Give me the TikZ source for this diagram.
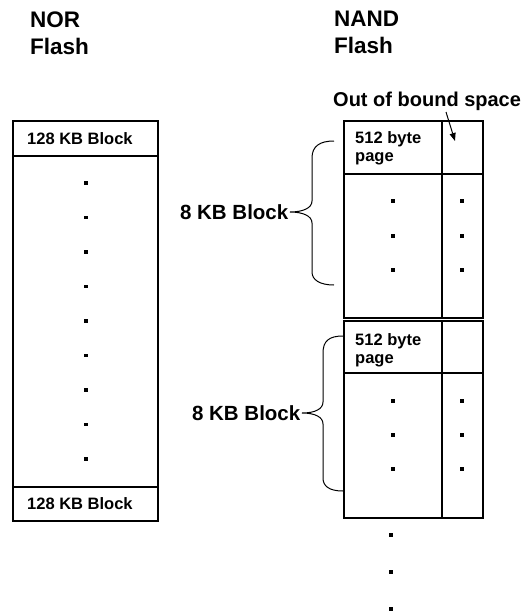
\documentclass[tikz,border=0pt]{standalone}
\usepackage{fontspec}
\setmainfont{Liberation Sans}
\usetikzlibrary{arrows.meta}
\begin{document}
\begin{tikzpicture}[x=1pt,y=-1pt,
  boxline/.style={line width=1.3pt},
  title/.style={font=\fontsize{22.5}{27}\selectfont\bfseries, align=left, inner sep=0pt, anchor=north west},
  cell/.style={font=\fontsize{16.5}{18}\selectfont\bfseries, align=left, inner sep=0pt},
  lbl/.style={font=\fontsize{20.5}{24}\selectfont\bfseries, inner sep=1.5pt, anchor=east},
  bracestyle/.style={line width=1pt},
  vdot/.style={fill=black, minimum size=3.3pt, inner sep=0pt, draw=none, rectangle},
  bigdot/.style={fill=black, minimum size=4.3pt, inner sep=0pt, draw=none, rectangle}]
\useasboundingbox (0,0) rectangle (527,614);
\fill[white] (0,0) rectangle (527,614);

% titles
\node[title] (nor) at (30,12) {NOR\\Flash};
\node[title] (nand) at (334,11) {NAND\\Flash};

% NOR flash
\draw[boxline] (13,121) rectangle (158,521);
\draw[boxline] (13,156) -- (158,156);
\draw[boxline] (13,487) -- (158,487);
\node[cell, anchor=west] (nortop) at (27,139) {128 KB Block};
\node[cell, anchor=west] (norbot) at (27,504) {128 KB Block};
\foreach \i in {0,...,8} {
  \node[vdot] (nd\i) at (86,183+34.5*\i) {};
}

% NAND flash block 1
\draw[boxline] (344,121) rectangle (483,318);
\draw[boxline] (442,121) -- (442,318);
\draw[boxline] (344,174) -- (483,174);
\node[cell, anchor=north west] (pg1) at (355,131.5) {512 byte\\page};
% NAND flash block 2
\draw[boxline] (344,321) rectangle (483,518);
\draw[boxline] (442,321) -- (442,518);
\draw[boxline] (344,373) -- (483,373);
\node[cell, anchor=north west] (pg2) at (355,333) {512 byte\\page};

\foreach \y [count=\k] in {201,236,270,401,435,469} {
  \node[vdot] (da\k) at (393,\y) {};
  \node[vdot] (db\k) at (462,\y) {};
}
\foreach \y [count=\k] in {535,572,609} {
  \node[bigdot] (dc\k) at (391,\y) {};
}

% out of bound space
\node[font=\fontsize{20}{24}\selectfont\bfseries, inner sep=0pt, anchor=base west] (oob) at (333,106) {Out of bound space};
\coordinate (oobfoot) at (446,112);
\coordinate (oobtip) at (455,141);
\draw[line width=1pt, -{Triangle[length=8pt,width=6pt]}] (oobfoot) -- (oobtip);

% braces
\node[lbl] (kb1) at (290,212) {8 KB Block};
\coordinate (b1t) at (334,141);
\coordinate (b1b) at (334,285);
\draw[bracestyle] (b1t) .. controls (320,141) and (312,146) .. (312,158) -- (312,201)
  .. controls (312,208) and (303,212) .. (kb1.east)
  .. controls (303,212) and (312,216) .. (312,223) -- (312,272)
  .. controls (312,280) and (320,285) .. (b1b);

\node[lbl] (kb2) at (302,413) {8 KB Block};
\coordinate (b2t) at (343,336);
\coordinate (b2b) at (343,491);
\draw[bracestyle] (b2t) .. controls (329,336) and (323,341) .. (323,353) -- (323,402)
  .. controls (323,409) and (315,413) .. (kb2.east)
  .. controls (315,413) and (323,417) .. (323,424) -- (323,478)
  .. controls (323,486) and (329,491) .. (b2b);
\end{tikzpicture}
\end{document}
